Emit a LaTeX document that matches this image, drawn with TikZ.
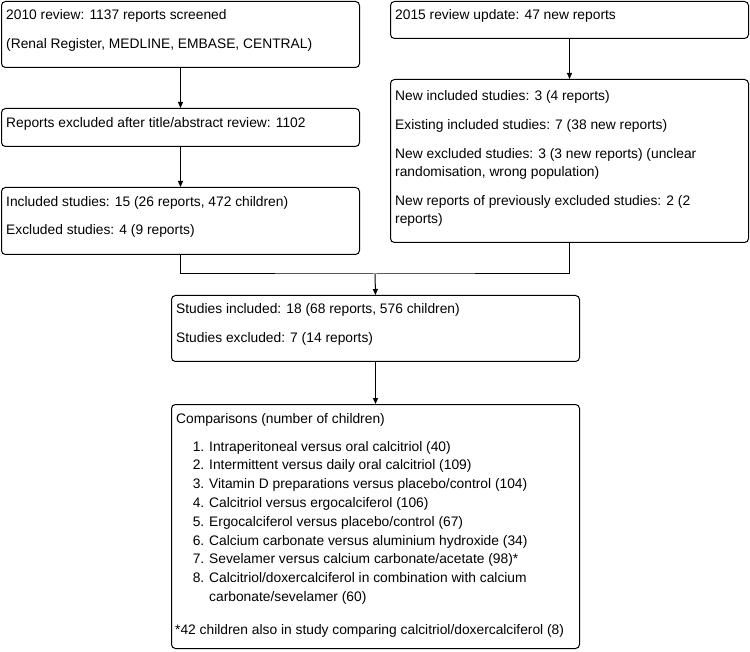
\documentclass[tikz,border=0pt]{standalone}
\usepackage{fontspec}
\setmainfont{Liberation Sans}
\usetikzlibrary{arrows.meta}
\begin{document}
\begin{tikzpicture}[x=1pt,y=1pt,
  box/.style={draw=black, line width=1pt, rounded corners=4pt, anchor=north west, inner sep=0pt, fill=none},
  txt/.style={anchor=base west, inner sep=0pt, font=\fontsize{13.8}{16}\selectfont},
  num/.style={anchor=base east, inner sep=0pt, font=\fontsize{13.8}{16}\selectfont},
  conn/.style={draw=black, line width=1pt},
  arr/.style={conn, -{Triangle[length=6pt,width=5pt]}}]
\useasboundingbox (0,0) rectangle (750,-652);
% boxes
\node[box, minimum width=358pt, minimum height=66pt] (b1) at (1,-1) {};
\node[box, minimum width=358pt, minimum height=38pt] (b2) at (1,-108) {};
\node[box, minimum width=358pt, minimum height=67pt] (b3) at (1,-187) {};
\node[box, minimum width=358pt, minimum height=37pt] (bA) at (390,-1) {};
\node[box, minimum width=358pt, minimum height=163pt] (bB) at (390,-79) {};
\node[box, minimum width=408pt, minimum height=66pt] (bC) at (171,-295) {};
\node[box, minimum width=408pt, minimum height=244pt] (bD) at (171,-404) {};
% texts
\node[txt] (t11) at (6,-20) {2010 review: 1137 reports screened};
\node[txt] (t12) at (6,-49) {(Renal Register, MEDLINE, EMBASE, CENTRAL)};
\node[txt] (t21) at (6,-128) {Reports excluded after title/abstract review: 1102};
\node[txt] (t31) at (6,-207) {Included studies: 15 (26 reports, 472 children)};
\node[txt] (t32) at (6,-235) {Excluded studies: 4 (9 reports)};
\node[txt] (tA1) at (395,-20) {2015 review update: 47 new reports};
\node[txt] (tB1) at (395,-101) {New included studies: 3 (4 reports)};
\node[txt] (tB2) at (395,-130) {Existing included studies: 7 (38 new reports)};
\node[txt] (tB3) at (395,-159) {New excluded studies: 3 (3 new reports) (unclear};
\node[txt] (tB4) at (395,-177) {randomisation, wrong population)};
\node[txt] (tB5) at (395,-206) {New reports of previously excluded studies: 2 (2};
\node[txt] (tB6) at (395,-224) {reports)};
\node[txt] (tC1) at (176,-314) {Studies included: 18 (68 reports, 576 children)};
\node[txt] (tC2) at (176,-343) {Studies excluded: 7 (14 reports)};
\node[txt] (tD0) at (176,-423) {Comparisons (number of children)};
\node[num] (n1) at (204.5,-451) {1.};
\node[txt] (i1) at (209,-451) {Intraperitoneal versus oral calcitriol (40)};
\node[num] (n2) at (204.5,-469.8) {2.};
\node[txt] (i2) at (209,-469.8) {Intermittent versus daily oral calcitriol (109)};
\node[num] (n3) at (204.5,-488.6) {3.};
\node[txt] (i3) at (209,-488.6) {Vitamin D preparations versus placebo/control (104)};
\node[num] (n4) at (204.5,-507.4) {4.};
\node[txt] (i4) at (209,-507.4) {Calcitriol versus ergocalciferol (106)};
\node[num] (n5) at (204.5,-526.2) {5.};
\node[txt] (i5) at (209,-526.2) {Ergocalciferol versus placebo/control (67)};
\node[num] (n6) at (204.5,-545) {6.};
\node[txt] (i6) at (209,-545) {Calcium carbonate versus aluminium hydroxide (34)};
\node[num] (n7) at (204.5,-563.8) {7.};
\node[txt] (i7) at (209,-563.8) {Sevelamer versus calcium carbonate/acetate (98)*};
\node[num] (n8) at (204.5,-582.6) {8.};
\node[txt] (i8) at (209,-582.6) {Calcitriol/doxercalciferol in combination with calcium};
\node[txt] (i8b) at (209,-601.4) {carbonate/sevelamer (60)};
\node[txt] (tDf) at (175,-634) {*42 children also in study comparing calcitriol/doxercalciferol (8)};
% connectors
\coordinate (m) at (375,-274);
\draw[arr] (b1.south) -- (b2.north);
\draw[arr] (b2.south) -- (b3.north);
\draw[arr] (bA.south) -- (bB.north);
\draw[conn] (b3.south) |- (m) -| (bB.south);
\draw[arr] (m) -- (bC.north);
\draw[arr] (bC.south) -- (bD.north);
\end{tikzpicture}
\end{document}
